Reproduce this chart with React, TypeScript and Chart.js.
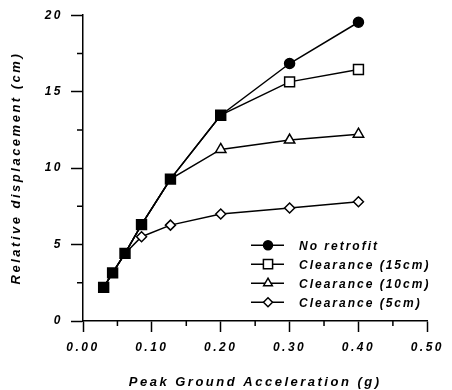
import { useEffect, useRef } from "react";
import { Chart, registerables } from "chart.js";
import { drawPoint } from "chart.js/helpers";

Chart.register(...registerables);

const pga = [0.03, 0.043, 0.061, 0.085, 0.127, 0.2, 0.3, 0.4];
const noRetrofit = [2.2, 3.15, 4.42, 6.3, 9.28, 13.46, 16.84, 19.54];
const clearance15 = [2.2, 3.15, 4.42, 6.3, 9.28, 13.46, 15.64, 16.45];
const clearance10 = [2.2, 3.15, 4.42, 6.3, 9.28, 11.22, 11.83, 12.22];
const clearance5 = [2.2, 3.15, 4.42, 5.51, 6.27, 7.0, 7.39, 7.8];
const seriesNames = ["No retrofit", "Clearance (15cm)", "Clearance (10cm)", "Clearance (5cm)"];
const xTicks = [0, 0.1, 0.2, 0.3, 0.4, 0.5];
const yTicks = [0, 5, 10, 15, 20];
const xMinorTicks = [0.05, 0.15, 0.25, 0.35, 0.45];
const yMinorTicks = [2.5, 7.5, 12.5, 17.5];

const FONT = "'Liberation Sans', Arial, sans-serif";

const legendStyles = [
  { pointStyle: "circle", radius: 4.5, fill: "#000" },
  { pointStyle: "rect", radius: 6.5, fill: "#fff" },
  { pointStyle: "triangle", radius: 5, fill: "#fff" },
  { pointStyle: "rectRot", radius: 4.5, fill: "#fff" },
];

const spacingPlugin = {
  id: "spacing",
  beforeUpdate(chart: any) {
    chart.ctx.letterSpacing = "2.5px";
  },
  beforeDraw(chart: any) {
    chart.ctx.letterSpacing = "2.5px";
  },
};

const extrasPlugin = {
  id: "extras",
  afterDraw(chart: any) {
    const ctx = chart.ctx;
    const xs = chart.scales.x;
    const ys = chart.scales.y;
    const area = chart.chartArea;
    ctx.save();
    ctx.strokeStyle = "#000";
    ctx.lineWidth = 1.5;
    ctx.beginPath();
    yMinorTicks.forEach((v) => {
      const py = ys.getPixelForValue(v);
      ctx.moveTo(area.left - 6, py);
      ctx.lineTo(area.left, py);
    });
    xMinorTicks.forEach((v) => {
      const px = xs.getPixelForValue(v);
      ctx.moveTo(px, area.bottom);
      ctx.lineTo(px, area.bottom + 5);
    });
    ctx.stroke();

    // legend
    const lx = area.left + 168;
    const ly = area.top + 230;
    const rowH = 19;
    ctx.font = `italic bold 12px ${FONT}`;
    ctx.letterSpacing = "2px";
    ctx.textBaseline = "middle";
    ctx.textAlign = "left";
    seriesNames.forEach((name, i) => {
      const y = ly + i * rowH;
      ctx.strokeStyle = "#000";
      ctx.lineWidth = 1.5;
      ctx.beginPath();
      ctx.moveTo(lx, y);
      ctx.lineTo(lx + 33, y);
      ctx.stroke();
      const st = legendStyles[i];
      ctx.fillStyle = st.fill;
      drawPoint(ctx, { pointStyle: st.pointStyle as any, radius: st.radius, rotation: 0, borderWidth: 1.5 }, lx + 17, y);
      ctx.fillStyle = "#000";
      ctx.fillText(name, lx + 48, y + 1);
    });
    ctx.restore();
  },
};

function mk(vals: number[]) {
  return pga.map((x, i) => ({ x, y: vals[i] }));
}

export default function App() {
  const ref = useRef<HTMLCanvasElement | null>(null);
  useEffect(() => {
    document.body.style.margin = "0";
    if (!ref.current) return;
    const hideShared = (vals: number[], r: number) => (c: any) =>
      vals[c.dataIndex] === noRetrofit[c.dataIndex] ? 0 : r;
    const chart = new Chart(ref.current, {
      type: "scatter",
      data: {
        datasets: [
          {
            label: seriesNames[0],
            data: mk(noRetrofit),
            showLine: true,
            borderColor: "#000",
            backgroundColor: "#000",
            borderWidth: 1.5,
            pointBorderWidth: 1.5,
            pointStyle: (c: any) =>
              clearance15[c.dataIndex] === noRetrofit[c.dataIndex] ? "rect" : "circle",
            pointRadius: (c: any) =>
              clearance15[c.dataIndex] === noRetrofit[c.dataIndex] ? 7 : 5,
          },
          {
            label: seriesNames[1],
            data: mk(clearance15),
            showLine: true,
            borderColor: "#000",
            backgroundColor: "#fff",
            borderWidth: 1.5,
            pointBorderWidth: 1.5,
            pointStyle: "rect",
            pointRadius: hideShared(clearance15, 7),
          },
          {
            label: seriesNames[2],
            data: mk(clearance10),
            showLine: true,
            borderColor: "#000",
            backgroundColor: "#fff",
            borderWidth: 1.5,
            pointBorderWidth: 1.5,
            pointStyle: "triangle",
            pointRadius: hideShared(clearance10, 6),
          },
          {
            label: seriesNames[3],
            data: mk(clearance5),
            showLine: true,
            borderColor: "#000",
            backgroundColor: "#fff",
            borderWidth: 1.5,
            pointBorderWidth: 1.5,
            pointStyle: "rectRot",
            pointRadius: hideShared(clearance5, 5),
          },
        ],
      },
      options: {
        animation: false,
        responsive: false,
        layout: { padding: { top: 15, right: 18, left: 0, bottom: 0 } },
        plugins: { legend: { display: false }, tooltip: { enabled: false } },
        scales: {
          x: {
            type: "linear",
            min: 0,
            max: 0.5,
            afterBuildTicks: (s: any) => {
              s.ticks = xTicks.map((v) => ({ value: v }));
            },
            afterFit: (s: any) => {
              s.height = 69;
            },
            ticks: {
              color: "#000",
              font: { family: FONT, size: 12, weight: "bold", style: "italic" },
              padding: 8,
              maxRotation: 0,
              callback: (v: any) => Number(v).toFixed(2),
            },
            grid: {
              display: true,
              drawOnChartArea: false,
              drawTicks: true,
              tickLength: 11,
              tickColor: "#000",
              tickWidth: 1.5,
            },
            border: { display: true, color: "#000", width: 1.5 },
            title: {
              display: true,
              text: "Peak Ground Acceleration (g)",
              color: "#000",
              font: { family: FONT, size: 13, weight: "bold", style: "italic" },
              padding: { top: 0, bottom: 0 },
            },
          },
          y: {
            type: "linear",
            min: 0,
            max: 20,
            afterBuildTicks: (s: any) => {
              s.ticks = yTicks.map((v) => ({ value: v }));
            },
            afterFit: (s: any) => {
              s.width = 83;
            },
            ticks: {
              color: "#000",
              font: { family: FONT, size: 12, weight: "bold", style: "italic" },
              padding: 8,
              callback: (v: any) => String(v),
            },
            grid: {
              display: true,
              drawOnChartArea: false,
              drawTicks: true,
              tickLength: 12,
              tickColor: "#000",
              tickWidth: 1.5,
            },
            border: { display: true, color: "#000", width: 1.5 },
            title: {
              display: true,
              text: "Relative displacement (cm)",
              color: "#000",
              font: { family: FONT, size: 13, weight: "bold", style: "italic" },
              padding: { top: 9, bottom: 0 },
            },
          },
        },
      },
      plugins: [spacingPlugin, extrasPlugin],
    } as any);
    return () => chart.destroy();
  }, []);
  return (
    <div style={{ width: 452, height: 390 }}>
      <canvas ref={ref} width={452} height={390} style={{ display: "block" }} />
    </div>
  );
}
